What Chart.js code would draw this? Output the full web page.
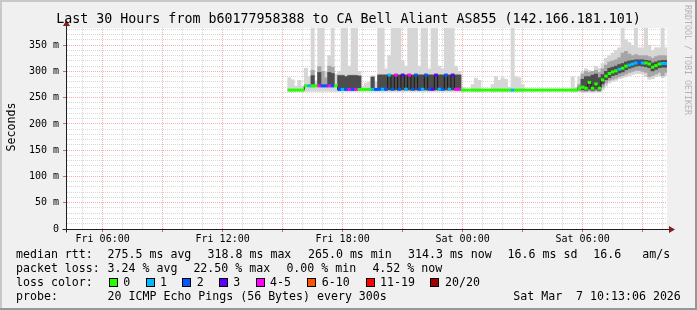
<!DOCTYPE html>
<html>
<head>
<meta charset="utf-8">
<script src="https://cdn.jsdelivr.net/npm/chart.js@4.4.1/dist/chart.umd.min.js"></script>
<style>
  body { margin: 0; background: #f0f0f0; }
  #graph { position: relative; width: 697px; height: 310px; background: #f0f0f0; overflow: hidden;
           font-family: 'DejaVu Sans Mono', monospace; color: #000; }
  #graph canvas { position: absolute; left: 0; top: 0; }
  .txt { position: absolute; white-space: pre; font-size: 11.6px; line-height: 14px; }
  .box { position: absolute; width: 7px; height: 7px; border: 1px solid #000; }
  .shade { position: absolute; }
</style>
</head>
<body>
<div id="graph">
  <canvas id="chart" width="697" height="310"></canvas>

  <div class="shade" style="left:0;top:0;width:697px;height:2px;background:#c8c8c8"></div>
  <div class="shade" style="left:0;top:0;width:2px;height:310px;background:#c8c8c8"></div>
  <div class="shade" style="left:0;top:308px;width:697px;height:2px;background:#969696"></div>
  <div class="shade" style="left:695px;top:0;width:2px;height:310px;background:#969696"></div>

  <div class="txt" style="left:0;top:11px;width:697px;text-align:center;font-size:13.3px;line-height:16px">Last 30 Hours from b60177958388 to CA Bell Aliant AS855 (142.166.181.101)</div>
  <div class="txt" style="left:-19px;top:120px;width:60px;text-align:center;transform:rotate(-90deg)">Seconds</div>
  <div class="txt" style="left:683px;top:5px;font-size:8.3px;line-height:10px;writing-mode:vertical-rl;color:#b4b4b4">RRDTOOL / TOBI OETIKER</div>

  <div id="legend"></div>
</div>

<script>
// Janela de 30 horas (horas contadas desde sexta 00:00)
const startHour = 4 + 13.1 / 60
const endHour = startHour + 30
const firstSlot = 15 + 20 / 60
const slotHours = 10 / 60

const tickHours = [6, 12, 18, 24, 30]
const tickLabels = ['Fri 06:00', 'Fri 12:00', 'Fri 18:00', 'Sat 00:00', 'Sat 06:00']

// Mediana (ms) de cada intervalo de 10 minutos
const median = [
    264.4, 264.4, 264.4, 264.4, 264.4,
    272.6, 272.6, 272.6, 272.6, 272.6, 272.6, 272.6, 272.6, 272.6, 272.6,
    265.7, 265.7, 265.7, 265.7, 265.7, 265.7, 265.7, 265.7, 265.7, 265.7, 265.7, 265.7,
    266, 266, 266, 293, 266, 293, 266, 293, 266, 293, 266, 293, 266, 266, 293, 266, 266, 293, 266, 266, 293, 266, 293, 266, 266,
    264.4, 264.4, 264.4, 264.4, 264.4, 264.4, 264.4, 264.4, 264.4, 264.4, 264.4, 264.4, 264.4, 264.4, 264.4, 264.4, 264.4, 264.4,
    264.4, 264.4, 264.4, 264.4, 264.4, 264.4, 264.4, 264.4, 264.4, 264.4, 264.4, 264.4, 264.4, 264.4, 264.4, 264.4, 264.4,
    267.6, 270, 268, 279, 268, 276, 268, 284, 291, 296, 299, 301, 304, 306, 310, 312, 314, 316, 317, 316, 316, 314, 308, 311, 314, 315, 315
]

// Pings perdidos (de 20) em cada intervalo
const loss = [
    0, 0, 0, 0, 0,
    0, 1, 0, 0, 4, 2, 2, 4, 2, 0,
    2, 1, 2, 4, 2, 4, 0, 0, 0, 0, 1, 2,
    2, 1, 2, 1, 2, 4, 2, 3, 1, 4, 2, 2, 2, 1, 2, 2, 3, 3, 1, 2, 2, 1, 3, 4, 4,
    0, 0, 0, 0, 0, 0, 0, 0, 0, 0, 0, 0, 0, 0, 0, 1, 0, 0,
    0, 0, 0, 0, 0, 0, 0, 0, 0, 0, 0, 0, 0, 0, 0, 0, 0,
    0, 0, 0, 0, 0, 0, 0, 0, 0, 0, 0, 0, 1, 0, 0, 1, 1, 1, 2, 1, 0, 0, 0, 0, 0, 1, 1
]

// Fumaça: ping mínimo e máximo
const pingMin = [
    262, 262, 262, 262, 262,
    262, 262, 262, 262, 262, 262, 262, 262, 262, 262,
    262, 262, 262, 262, 262, 262, 262, 262, 262, 262, 262, 262,
    262, 262, 262, 262, 262, 262, 262, 262, 262, 262, 262, 262, 262, 262, 262, 262, 262, 262, 262, 262, 262, 262, 262, 262, 262,
    262, 262, 262, 262, 262, 262, 262, 262, 262, 262, 262, 262, 262, 262, 262, 262, 262, 262,
    262, 262, 262, 262, 262, 262, 262, 262, 262, 262, 262, 262, 262, 262, 262, 262, 262,
    262, 261, 260, 261, 260, 261, 261, 265, 272, 278, 281, 283, 286, 288, 290, 292, 294, 296, 296, 295, 290, 285, 286, 290, 292, 288, 292
]
const pingMax = [
    288, 284, 272, 283, 272,
    306, 290, 400, 282, 400, 400, 300, 330, 400, 295,
    300, 400, 400, 310, 400, 400, 300, 272, 278, 280, 292, 280,
    400, 400, 305, 330, 400, 400, 400, 320, 310, 400, 400, 400, 310, 400, 400, 305, 400, 400, 310, 305, 400, 400, 400, 310, 300,
    270, null, null, 275, 287, 283, null, null, null, 275, 290, 283, 288, 285, 270, 400, 290, 288,
    275, null, null, null, null, null, null, null, null, null, null, null, null, null, null, 290, 270,
    290, 300, 305, 302, 300, 310, 306, 315, 325, 330, 335, 340, 345, 400, 360, 355, 350, 400, 345, 345, 400, 350, 340, 345, 345, 400, 345
]

// Fumaça: faixa intermediária
const midLow = [
    null, null, null, null, null,
    null, null, 270, null, 270, 270, 270, 270, 270, null,
    264, 264, 264, 264, 264, 264, 264, null, null, null, 264, null,
    264, 264, 264, 264, 264, 264, 264, 264, 264, 264, 264, 264, 264, 264, 264, 264, 264, 264, 264, 264, 264, 264, 264, 264, 264,
    null, null, null, null, null, null, null, null, null, null, null, null, null, null, null, null, null, null,
    null, null, null, null, null, null, null, null, null, null, null, null, null, null, null, null, null,
    263, 262, 262, 263, 262, 263, 262, 270, 278, 283, 285, 287, 290, 292, 295, 298, 300, 302, 302, 300, 298, 290, 292, 295, 298, 292, 298
]
const midHigh = [
    null, null, null, null, null,
    null, null, 302, null, 309, 300, 288, 310, 308, null,
    293, 293, 290, 293, 293, 293, 292, null, null, null, 290, null,
    294, 294, 294, 294, 294, 294, 294, 294, 294, 294, 294, 294, 294, 294, 294, 294, 294, 294, 294, 294, 294, 294, 294, 294, 294,
    null, null, null, null, null, null, null, null, null, null, null, null, null, null, null, null, null, null,
    null, null, null, null, null, null, null, null, null, null, null, null, null, null, null, null, null,
    275, 295, 300, 298, 300, 302, 298, 305, 312, 318, 320, 322, 326, 335, 338, 333, 330, 332, 330, 330, 330, 328, 325, 328, 330, 330, 330
]

// Fumaça: núcleo escuro
const coreLow = [
    null, null, null, null, null,
    null, null, 272, null, 272, null, null, 272, 272, null,
    265, 265, 265, 265, 265, 265, 265, null, null, null, 265, null,
    265, 265, 265, 265, 265, 265, 265, 265, 265, 265, 265, 265, 265, 265, 265, 265, 265, 265, 265, 265, 265, 265, 265, 265, 265,
    null, null, null, null, null, null, null, null, null, null, null, null, null, null, null, null, null, null,
    null, null, null, null, null, null, null, null, null, null, null, null, null, null, null, null, null,
    265, 265, 264, 266, 264, 266, 264, 276, 284, 288, 292, 294, 297, 299, 303, 306, 308, 310, 311, 310, 309, 307, 301, 304, 307, 308, 308
]
const coreHigh = [
    null, null, null, null, null,
    null, null, 292, null, 298, null, null, 298, 296, null,
    292, 292, 290, 292, 292, 292, 291, null, null, null, 289, null,
    293, 293, 293, 293, 293, 293, 293, 293, 293, 293, 293, 293, 293, 293, 293, 293, 293, 293, 293, 293, 293, 293, 293, 293, 293,
    null, null, null, null, null, null, null, null, null, null, null, null, null, null, null, null, null, null,
    null, null, null, null, null, null, null, null, null, null, null, null, null, null, null, null, null,
    270, 285, 290, 290, 293, 295, 288, 294, 300, 306, 308, 310, 313, 315, 318, 320, 321, 322, 322, 322, 321, 320, 316, 318, 320, 321, 321
]

// Cores de perda
const lossBins = [0, 1, 2, 3, 5, 10, 19, 20]
const lossLabels = ['0', '1', '2', '3', '4-5', '6-10', '11-19', '20/20']
const lossColors = ['#26ff00', '#00b8ff', '#0059ff', '#5e00ff', '#ff00ff', '#ff5500', '#ff0000', '#a10000']
const lossBoxX = [109, 145.7, 182.3, 219, 255.7, 306.7, 365.7, 430]
const lossLabelX = [123.3, 160, 196.7, 233.3, 270, 321.7, 380, 445]

// Linhas de legenda
const legendRows = [
    [[16, 'median rtt:'], [107.6, '275.5 ms avg'], [207.6, '318.8 ms max'], [308, '265.0 ms min'], [408, '314.3 ms now'], [507.6, '16.6 ms sd'], [593.3, '16.6'], [642.2, 'am/s']],
    [[16, 'packet loss:'], [107.6, '3.24 % avg'], [193.4, '22.50 % max'], [286.4, '0.00 % min'], [372.4, '4.52 % now']],
    [[16, 'loss color:']],
    [[16, 'probe:'], [107.6, '20 ICMP Echo Pings (56 Bytes) every 300s'], [513.3, 'Sat Mar  7 10:13:06 2026']]
]
const legendRowY = [254, 268, 282, 296]

const GRID = 'rgba(140, 140, 140, 0.35)'
const MGRID = 'rgba(240, 110, 110, 0.55)'
const TICK = 'rgba(200, 70, 70, 0.8)'

function lossColor(n) {
    return lossColors[lossBins.findIndex((b) => n <= b)]
}

const slotX = median.map((_, i) => firstSlot + i * slotHours)

function band(lo, hi) {
    const points = []
    slotX.forEach((x, i) => {
        if (lo[i] == null || hi[i] == null) return
        points.push({ x: x, y: [lo[i], hi[i]] })
    })
    return points
}

const medianPoints = slotX.map((x, i) => ({ x: x, y: median[i] }))

// Fundo branco da área do gráfico
const plotBackground = {
    id: 'plotBackground',
    beforeDraw(chart) {
        const { ctx, chartArea: a } = chart
        ctx.save()
        ctx.fillStyle = '#ffffff'
        ctx.fillRect(a.left, a.top, a.right - a.left, a.bottom - a.top)
        ctx.restore()
    }
}

// Eixos com setas
const axisArrows = {
    id: 'axisArrows',
    afterDraw(chart) {
        const { ctx, chartArea: a } = chart
        const x0 = Math.round(a.left) - 0.5
        const y0 = Math.round(a.bottom) + 0.5
        ctx.save()
        ctx.strokeStyle = '#1f1f1f'
        ctx.lineWidth = 1
        ctx.beginPath()
        ctx.moveTo(x0 - 4, y0)
        ctx.lineTo(a.right + 4, y0)
        ctx.moveTo(x0, y0 + 3)
        ctx.lineTo(x0, a.top - 4)
        ctx.stroke()

        ctx.fillStyle = '#801f1f'
        ctx.beginPath()
        ctx.moveTo(a.right + 8, y0)
        ctx.lineTo(a.right + 2, y0 - 3.5)
        ctx.lineTo(a.right + 2, y0 + 3.5)
        ctx.closePath()
        ctx.fill()
        ctx.beginPath()
        ctx.moveTo(x0, a.top - 8)
        ctx.lineTo(x0 - 3.5, a.top - 2)
        ctx.lineTo(x0 + 3.5, a.top - 2)
        ctx.closePath()
        ctx.fill()
        ctx.restore()
    }
}

const barStyle = { grouped: false, barPercentage: 1, categoryPercentage: 1, borderWidth: 0 }

new Chart(document.getElementById('chart'), {
    type: 'bar',
    data: {
        datasets: [
            {
                type: 'line',
                data: medianPoints,
                showLine: false,
                pointStyle: 'line',
                pointRadius: 1.8,
                pointBorderWidth: 3,
                pointBorderColor: loss.map(lossColor),
                pointBackgroundColor: loss.map(lossColor),
                order: 0
            },
            {
                type: 'line',
                data: medianPoints,
                stepped: 'middle',
                borderColor: '#1a1a1a',
                borderWidth: 1,
                pointRadius: 0,
                order: 1
            },
            { ...barStyle, data: band(coreLow, coreHigh), backgroundColor: '#4d4d4d', order: 2 },
            { ...barStyle, data: band(midLow, midHigh), backgroundColor: '#a6a6a6', order: 3 },
            { ...barStyle, data: band(pingMin, pingMax), backgroundColor: '#d6d6d6', order: 4 }
        ]
    },
    options: {
        responsive: false,
        animation: false,
        events: [],
        layout: { padding: { left: 0, right: 30, top: 28, bottom: 0 } },
        plugins: { legend: { display: false }, tooltip: { enabled: false } },
        scales: {
            x: {
                type: 'linear',
                min: startHour,
                max: endHour,
                offset: false,
                z: 1,
                afterBuildTicks: (s) => {
                    const hours = []
                    for (let h = Math.ceil(startHour); h <= endHour; h++) hours.push({ value: h })
                    s.ticks = hours
                },
                afterFit: (s) => { s.height = 81 },
                grid: {
                    offset: false,
                    color: (c) => (c.tick && c.tick.value % 3 === 0 ? MGRID : GRID),
                    tickColor: (c) => (c.tick && c.tick.value % 3 === 0 ? TICK : 'rgba(0,0,0,0)'),
                    tickLength: 3
                },
                border: { display: false, dash: [1, 1] },
                ticks: {
                    autoSkip: false,
                    maxRotation: 0,
                    padding: 1,
                    color: '#000',
                    font: { family: "'DejaVu Sans Mono'", size: 10 },
                    callback: (v) => {
                        const k = tickHours.indexOf(v)
                        return k >= 0 ? tickLabels[k] : ''
                    }
                }
            },
            y: {
                min: 0,
                max: 382.6,
                z: 1,
                afterBuildTicks: (s) => {
                    const vals = []
                    for (let v = 0; v <= 380; v += 10) vals.push({ value: v })
                    s.ticks = vals
                },
                afterFit: (s) => { s.width = 67 },
                grid: {
                    color: (c) => (c.tick && c.tick.value % 50 === 0 ? MGRID : GRID),
                    tickColor: (c) => (c.tick && c.tick.value % 50 === 0 ? TICK : 'rgba(0,0,0,0)'),
                    tickLength: 4
                },
                border: { display: false, dash: [1, 1] },
                ticks: {
                    autoSkip: false,
                    padding: 4,
                    color: '#000',
                    font: { family: "'DejaVu Sans Mono'", size: 10 },
                    callback: (v) => (v % 50 === 0 ? (v === 0 ? '0' : v + ' m') : '')
                }
            }
        }
    },
    plugins: [plotBackground, axisArrows]
})

// Legenda de texto
const legend = document.getElementById('legend')

legendRows.forEach((row, r) => {
    row.forEach(([x, text]) => {
        const div = document.createElement('div')
        div.className = 'txt'
        div.style.left = x + 'px'
        div.style.top = (legendRowY[r] - 7) + 'px'
        div.textContent = text
        legend.appendChild(div)
    })
})

lossLabels.forEach((label, i) => {
    const box = document.createElement('div')
    box.className = 'box'
    box.style.left = lossBoxX[i] + 'px'
    box.style.top = (legendRowY[2] - 4) + 'px'
    box.style.background = lossColors[i]
    legend.appendChild(box)

    const div = document.createElement('div')
    div.className = 'txt'
    div.style.left = lossLabelX[i] + 'px'
    div.style.top = (legendRowY[2] - 7) + 'px'
    div.textContent = label
    legend.appendChild(div)
})
</script>
</body>
</html>
